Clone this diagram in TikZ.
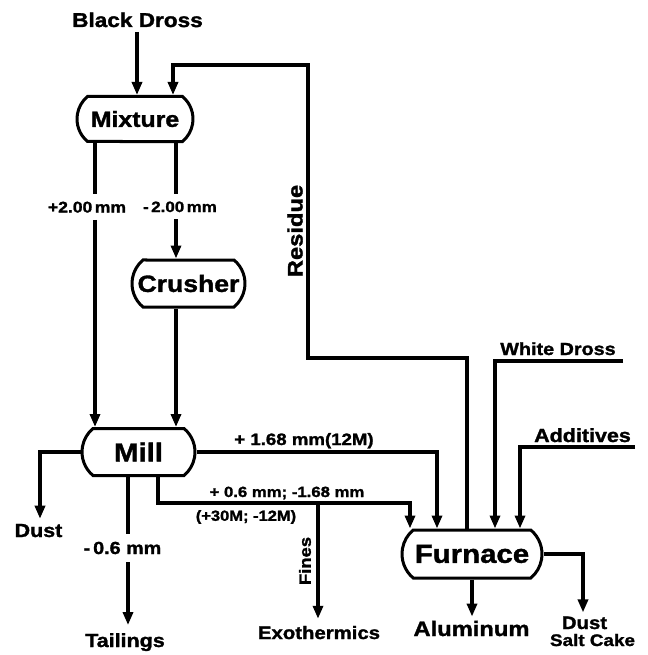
\documentclass[tikz,border=0pt]{standalone}
\usepackage{fontspec}
\newfontfamily\labfont{Liberation Sans Bold}[FakeStretch=1.13, FakeBold=1.5]
\usetikzlibrary{arrows.meta,shapes.misc}
\newcommand\lfs[1]{\fontsize{#1}{#1}\selectfont\labfont}
\tikzset{
  proc/.style={draw, line width=3pt, rounded rectangle, rounded rectangle arc length=100, inner sep=0pt},
  flow/.style={line width=3.5pt, -{Triangle[length=13pt,width=10pt]}},
  plain/.style={line width=3.5pt},
  lbl/.style={inner sep=0pt, anchor=base},
}
\begin{document}
\begin{tikzpicture}[x=1pt,y=-1pt]
\fill[white] (0,0) rectangle (647,655);
\useasboundingbox (0,0) rectangle (647,655);

% process boxes
\node[proc, minimum width=116pt, minimum height=45pt, font=\lfs{22}] (mix) at (135,119) {Mixture};
\node[proc, minimum width=113pt, minimum height=47pt, font=\lfs{23.5}] (cru) at (188.5,283.5) {Crusher};
\node[proc, minimum width=113pt, minimum height=47pt, font=\lfs{26}] (mill) at (138.5,452) {Mill};
\node[proc, minimum width=140pt, minimum height=48pt, font=\lfs{26}] (fur) at (472,554) {Furnace};

% labels
\node[lbl, font=\lfs{20}] (bd) at (137.5,27) {Black Dross};
\node[lbl, font=\lfs{15.5}, inner ysep=7pt] (lp2) at (87,212.5) {+2.00\,mm};
\node[lbl, font=\lfs{15}, inner ysep=7pt] (lm2) at (180,212) {-\,2.00\,mm};
\node[lbl, font=\lfs{19}, inner ysep=5pt] (dustl) at (38.5,537) {Dust};
\node[lbl, font=\lfs{17.5}, inner ysep=8pt] (l06) at (122.5,554) {-\,0.6 mm};
\node[lbl, font=\lfs{19}, inner ysep=8pt] (tail) at (125,647) {Tailings};
\node[lbl, font=\lfs{16.5}] (l168) at (304,445) {+ 1.68 mm(12M)};
\node[lbl, font=\lfs{14.8}] (l06b) at (287,497) {+ 0.6 mm; -1.68 mm};
\node[font=\lfs{14.6}, inner sep=0pt] (l30) at (246,517) {(+30M; -12M)};
\node[rotate=90, font=\lfs{21}, inner sep=0pt] (res) at (295,231) {Residue};
\node[rotate=90, font=\lfs{16.3}, inner sep=0pt] (fines) at (305,561) {Fines};
\node[lbl, font=\lfs{18}, inner ysep=7pt] (exo) at (319,639) {Exothermics};
\node[lbl, font=\lfs{21}, inner ysep=4pt] (alu) at (471.5,636) {Aluminum};
\node[lbl, font=\lfs{18}] (dustr) at (584.5,629) {Dust};
\node[lbl, font=\lfs{16.7}] (salt) at (592.5,646) {Salt Cake};
\node[lbl, font=\lfs{17.5}] (wd) at (558,355) {White Dross};
\node[lbl, font=\lfs{19}] (add) at (582.5,442) {Additives};

% coordinates
\coordinate (bdx) at (137,32);
\coordinate (xA) at (95,0);
\coordinate (xB) at (176,0);
\coordinate (xD) at (40,0);
\coordinate (xT) at (128,0);
\coordinate (x437) at (437,0);
\coordinate (j1) at (158,503);
\coordinate (j2) at (410,503);
\coordinate (jf) at (318,503);
\coordinate (x472) at (472,0);
\coordinate (x583) at (583,0);
\coordinate (r1) at (467,358);
\coordinate (r2) at (308,358);
\coordinate (r3) at (308,65);
\coordinate (r4) at (173,65);
\coordinate (w1) at (623,361);
\coordinate (w2) at (495,361);
\coordinate (a1) at (635,447);
\coordinate (a2) at (520,447);

% connectors
\draw[flow] (bdx) -- (bdx |- mix.north);
\draw[flow] (fur.north -| r1) -- (r1) -- (r2) -- (r3) -- (r4) -- (r4 |- mix.north);
\draw[plain] (mix.south -| xA) -- (xA |- lp2.north);
\draw[flow] (xA |- lp2.south) -- (mill.north -| xA);
\draw[plain] (mix.south -| xB) -- (xB |- lm2.north);
\draw[flow] (xB |- lm2.south) -- (cru.north -| xB);
\draw[flow] (cru.south -| xB) -- (mill.north -| xB);
\draw[flow] (mill.west) -- (mill.west -| xD) -- (xD |- dustl.north);
\draw[plain] (mill.south -| xT) -- (xT |- l06.north);
\draw[flow] (xT |- l06.south) -- (xT |- tail.north);
\draw[flow] (mill.east) -- (mill.east -| x437) -- (fur.north -| x437);
\draw[flow] (mill.south -| j1) -- (j1) -- (j2) -- (j2 |- fur.north);
\draw[flow] (jf) -- (jf |- exo.north);
\draw[flow] (w1) -- (w2) -- (w2 |- fur.north);
\draw[flow] (a1) -- (a2) -- (a2 |- fur.north);
\draw[flow] (fur.south -| x472) -- (x472 |- alu.north);
\draw[flow, shorten >=4pt] (fur.east) -- (fur.east -| x583) -- (x583 |- dustr.north);
\end{tikzpicture}
\end{document}
